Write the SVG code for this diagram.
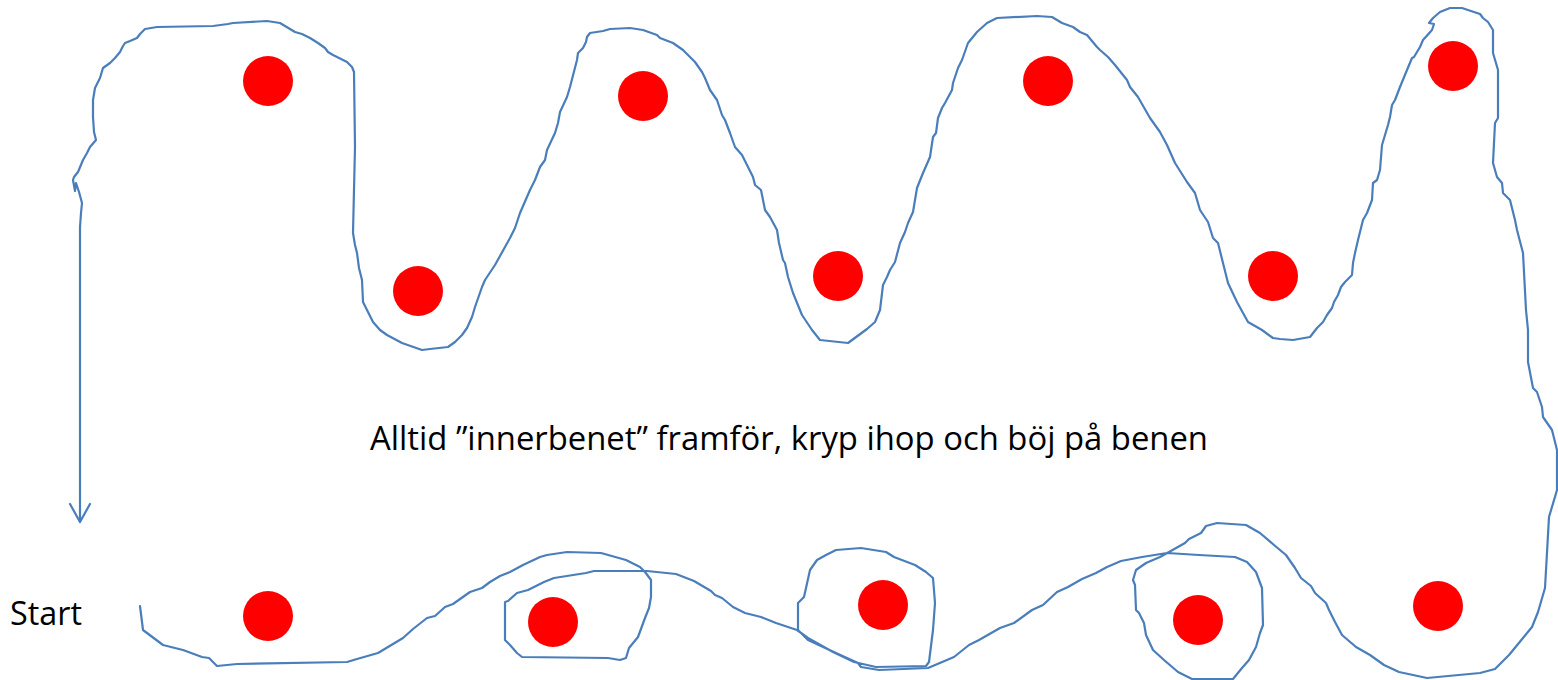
<svg xmlns="http://www.w3.org/2000/svg" width="1558" height="680" viewBox="0 0 1558 680">
  <style>
    .dot { fill: #FF0000; }
    .stroke { fill: none; stroke: #4A7EBB; stroke-width: 2.2; stroke-linejoin: round; stroke-linecap: round; }
    .lbl { font-family: "Open Sans", "Liberation Sans", sans-serif; font-size: 32px; fill: #000000; }
  </style>
  <defs>
    <marker id="openArrow" markerUnits="userSpaceOnUse" viewBox="-22 -13 26 26" markerWidth="26" markerHeight="26" refX="0" refY="0" orient="auto">
      <path d="M-18,-10 L0,0 L-18,10" fill="none" stroke="#4A7EBB" stroke-width="2.2" stroke-linejoin="round" stroke-linecap="round"/>
    </marker>
  </defs>
  <rect width="1558" height="680" fill="#FFFFFF"/>

  <g id="connectors">
    <path class="stroke" d="M140,606 L143,630 L163,645 L183,650 L202,657 L209,658 L217,666 L237,664 L347,662 L357,659 L378,653 L403,638 L413,629 L427,618 L435,616 L445,607 L453,604 L470,592 L482,588 L490,582 L500,576 L510,572 L523,565 L540,557
    L547,555 L567,552 L601,553 L626,560 L640,567 L645,572 L651,580 L651,597 L649,608 L645,618 L638,637 L629,648 L626,658 L620,660 L608,658 L522,657 L517,653 L510,645 L505,640 L505,602 L508,601 L517,593 L528,590 L544,582 L554,578 L586,573 L594,571 L647,571 L676,574 L694,581 L711,591 L715,595 L722,598 L733,607 L745,613 L761,617 L776,623 L797,630 L808,638 L833,652 L854,662 L876,667 L926,666 L929,662 L933,630 L935,603 L933,578 L926,572 L915,565 L894,557 L886,552 L861,548 L836,550 L826,555 L817,560 L810,570 L804,597 L798,603 L798,630 L808,640 L836,653 L858,663 L861,667 L879,670 L928,668 L954,657 L969,645 L979,640 L1000,628
    L1014,623 L1032,610 L1043,605 L1057,592 L1068,587 L1082,579 L1096,573 L1107,567 L1121,561 L1142,557 L1167,553 L1199,555 L1235,557 L1247,562 L1256,572 L1262,588 L1263,625 L1260,633 L1256,647 L1249,660 L1242,668 L1233,679 L1192,679 L1178,672 L1164,660 L1153,650 L1146,635 L1144,623 L1139,613 L1136,610 L1135,585 L1133,580 L1136,570 L1146,563 L1160,557 L1169,552 L1185,543 L1189,539 L1201,533 L1206,526 L1217,523 L1246,525 L1260,533 L1274,545 L1286,555 L1295,568 L1301,578 L1311,586 L1315,593 L1326,603 L1329,610 L1335,622 L1342,635 L1356,647 L1370,655 L1384,665 L1399,672 L1427,678 L1480,673 L1495,669 L1509,655 L1523,638 L1532,627 L1538,612 L1545,588 L1549,517 L1557,490 L1557,450 L1552,430 L1543,417 L1542,407 L1537,392 L1533,388 L1528,362 L1528,330
    L1526,310 L1523,253 L1517,230 L1515,220 L1510,200 L1503,193 L1502,183 L1497,177 L1493,163 L1495,123 L1498,118 L1498,70 L1493,53 L1493,30 L1488,22 L1483,18 L1480,14 L1462,8 L1450,8 L1440,12 L1433,18 L1429,23 L1434,24 L1432,30 L1423,40 L1420,47 L1414,57 L1412,58 L1407,70 L1400,87 L1395,100 L1392,105 L1390,117 L1388,125 L1382,145 L1380,170 L1377,180 L1373,183 L1372,200 L1367,213 L1363,220 L1358,240 L1355,253 L1353,263 L1352,275 L1345,282 L1341,287 L1338,295 L1334,302 L1332,308 L1327,315 L1323,322 L1317,328 L1310,337 L1293,340 L1280,339
    L1273,338 L1262,330 L1248,322 L1243,313 L1237,302 L1228,283 L1223,263 L1218,243 L1213,238 L1208,222 L1200,210 L1195,193 L1187,182 L1175,163 L1167,145 L1160,132 L1150,118 L1138,97 L1130,87 L1127,80 L1115,65 L1108,57 L1100,50 L1097,47 L1087,35 L1080,32 L1073,27 L1062,23 L1052,17 L1037,16 L997,18 L987,23 L977,32 L968,43 L962,60 L958,68 L953,83 L952,90 L945,103 L942,108 L938,118 L936,133 L933,137 L930,157 L923,173 L917,188 L915,200 L913,212 L908,223 L905,232 L900,243 L895,262 L890,270 L887,277 L883,285 L880,310
    L875,322 L867,329 L848,343 L820,340 L812,330 L802,315 L793,293 L788,277 L785,263 L783,260 L779,243 L777,230 L770,217 L765,210 L761,190 L755,185 L753,177 L747,165 L742,155 L735,147 L730,133 L725,120 L722,115 L717,100 L710,90 L705,78 L702,72 L695,62 L688,55 L683,50 L673,43 L660,38 L657,35 L643,30 L630,28 L610,29 L603,31 L590,33 L587,37 L586,42 L583,48 L578,53 L577,60 L570,87 L567,97 L560,112 L558,123 L555,133 L547,150 L545,160 L540,167 L535,180 L530,190 L520,213 L515,228 L510,238 L505,247 L495,265 L485,280 L482,287 L475,307 L472,317 L467,328 L462,335 L455,342 L448,347 L430,349
    L422,350 L402,343 L387,335 L380,330 L373,322 L363,302 L362,280 L359,268 L357,253 L355,245 L353,233 L355,147 L354,72 L352,67 L347,62 L333,55 L328,52 L325,48 L318,43 L310,38 L302,34 L295,32 L290,29 L280,23 L267,21 L233,23 L228,24 L213,26 L157,27 L145,29 L140,34 L137,38 L130,41 L125,43 L123,46 L120,52 L115,58 L110,63 L103,68 L100,78 L95,88 L93,100 L93,117 L94,132 L96,140 L90,147 L87,153 L83,160 L78,172 L74,177 L73,180 L75,191 L76,183 L79,192 L82,203 L81,213 L80,227"/>
    <path class="stroke" d="M80,227 L80,522" marker-end="url(#openArrow)"/>
  </g>

  <g id="dot-1"><circle class="dot" cx="268" cy="81" r="25"/></g>
  <g id="dot-2"><circle class="dot" cx="418" cy="291" r="25"/></g>
  <g id="dot-3"><circle class="dot" cx="643" cy="96" r="25"/></g>
  <g id="dot-4"><circle class="dot" cx="838" cy="276" r="25"/></g>
  <g id="dot-5"><circle class="dot" cx="1048" cy="81" r="25"/></g>
  <g id="dot-6"><circle class="dot" cx="1273" cy="276" r="25"/></g>
  <g id="dot-7"><circle class="dot" cx="1453" cy="66" r="25"/></g>
  <g id="dot-8"><circle class="dot" cx="268" cy="616" r="25"/></g>
  <g id="dot-9"><circle class="dot" cx="553" cy="622" r="25"/></g>
  <g id="dot-10"><circle class="dot" cx="883" cy="605" r="25"/></g>
  <g id="dot-11"><circle class="dot" cx="1198" cy="620" r="25"/></g>
  <g id="dot-12"><circle class="dot" cx="1438" cy="606" r="25"/></g>

  <g id="label-start">
    <text class="lbl" x="10" y="625" textLength="72" lengthAdjust="spacingAndGlyphs">Start</text>
  </g>
  <g id="label-instruction">
    <text class="lbl" x="370" y="450" textLength="838" lengthAdjust="spacingAndGlyphs">Alltid ”innerbenet” framför, kryp ihop och böj på benen</text>
  </g>
</svg>
